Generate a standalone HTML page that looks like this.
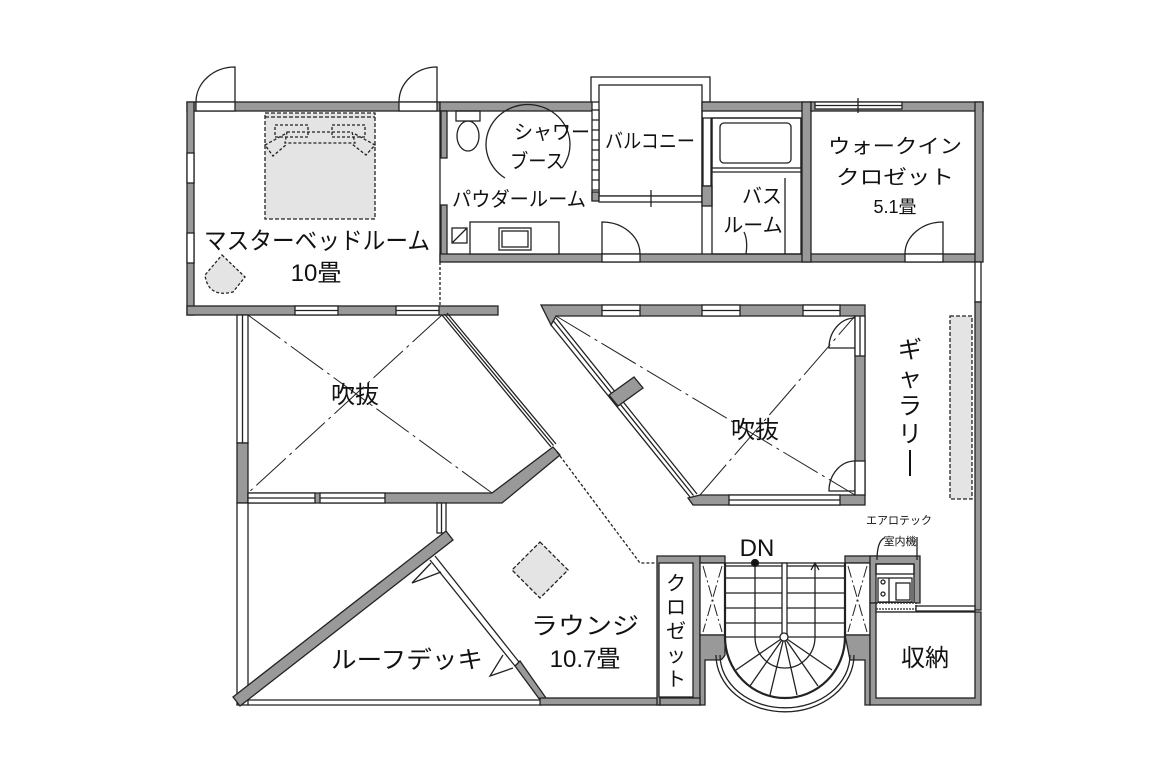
<!DOCTYPE html>
<html><head><meta charset="utf-8"><style>
html,body{margin:0;padding:0;background:#fff}
svg{display:block}
text{font-family:"Liberation Sans","Noto Sans CJK JP",sans-serif;fill:#111}
</style></head><body>
<svg width="1170" height="780" viewBox="0 0 1170 780" xmlns="http://www.w3.org/2000/svg">
<g stroke="#222" stroke-width="1.3" fill="none">
<rect x="187" y="102" width="253" height="9" fill="#999"/>
<rect x="187" y="102" width="7" height="213" fill="#999"/>
<rect x="187" y="306" width="311" height="9" fill="#999"/>
<rect x="196" y="102" width="39" height="9" fill="#fff"/>
<path d="M235 102 V67 A39 35 0 0 0 196 102"/>
<rect x="399" y="102" width="38" height="9" fill="#fff"/>
<path d="M437 102 V67 A38 35 0 0 0 399 102"/>
<rect x="187" y="153" width="7" height="30" fill="#fff"/>
<rect x="187" y="233" width="7" height="30" fill="#fff"/>
<rect x="295" y="306" width="43" height="9" fill="#fff"/><line x1="295" y1="310.5" x2="338" y2="310.5"/>
<rect x="396" y="306" width="43" height="9" fill="#fff"/><line x1="396" y1="310.5" x2="439" y2="310.5"/>
<line x1="440" y1="111" x2="440" y2="262"/>
<line x1="440" y1="262" x2="440" y2="306" stroke-dasharray="3,2"/>
<rect x="265" y="113" width="110" height="106" fill="#e4e4e4" stroke-dasharray="4,2"/>
<line x1="265" y1="117" x2="375" y2="117" stroke-dasharray="4,2"/>
<rect x="275" y="125" width="33" height="12" stroke-dasharray="3,2"/>
<rect x="332" y="125" width="33" height="12" stroke-dasharray="3,2"/>
<path d="M287 132 H352 L355 143 H285 Z" stroke-dasharray="3,2"/>
<path d="M285 134 L265 145 L273 156 L287 144" stroke-dasharray="3,2"/>
<path d="M355 134 L375 145 L366 155 L352 144" stroke-dasharray="3,2"/>
<path d="M222 255 L245 277 L233 292 Q208 298 205 275 Z" fill="#e4e4e4" stroke-dasharray="3,2"/>
<rect x="440" y="102" width="152" height="9" fill="#999"/>
<rect x="441" y="111" width="6" height="47" fill="#999"/>
<rect x="441" y="205" width="6" height="55" fill="#999"/>
<rect x="440" y="254" width="540" height="8" fill="#999"/>
<rect x="456" y="111" width="24" height="10" />
<ellipse cx="468" cy="136" rx="11" ry="15"/>
<path d="M505 178 A42 40 0 1 1 562 168"/>
<rect x="452" y="228" width="15" height="15"/><line x1="452" y1="243" x2="467" y2="228"/>
<rect x="470" y="222" width="89" height="32" fill="#fff"/>
<rect x="499" y="228" width="32" height="22"/><rect x="502" y="231" width="26" height="16"/>
<rect x="602" y="254" width="38" height="8" fill="#fff"/>
<path d="M602 254 V222 A38 32 0 0 1 640 254"/>
<rect x="591" y="77" width="119" height="25" fill="#fff"/>
<rect x="599" y="85" width="103" height="111" fill="#fff"/>
<rect x="592" y="110" width="7" height="90" fill="#fff"/>
<path d="M592 120 h7 M592 130 h7 M592 140 h7 M592 150 h7 M592 160 h7 M592 170 h7 M592 180 h7 M592 190 h7"/>
<rect x="592" y="192" width="7" height="9" fill="#999"/>
<rect x="599" y="196" width="103" height="6" fill="#fff"/><line x1="651" y1="190" x2="651" y2="207"/>
<rect x="702" y="102" width="110" height="9" fill="#999"/>
<line x1="702" y1="111" x2="702" y2="254"/>
<rect x="703" y="118" width="8" height="68"/>
<rect x="702" y="186" width="10" height="20" fill="#999"/>
<rect x="712" y="118" width="89" height="136"/>
<rect x="712" y="118" width="89" height="50"/>
<rect x="720" y="123" width="71" height="40" rx="4"/>
<line x1="712" y1="172" x2="801" y2="172"/>
<line x1="785" y1="178" x2="785" y2="254"/>
<path d="M746 254 Q748 240 744 232"/>
<rect x="802" y="102" width="9" height="160" fill="#999"/>
<rect x="811" y="102" width="172" height="9" fill="#999"/>
<rect x="815" y="102" width="87" height="7" fill="#fff"/><line x1="815" y1="105.5" x2="902" y2="105.5"/><line x1="858" y1="98" x2="858" y2="113"/>
<rect x="975" y="102" width="8" height="160" fill="#999"/>
<rect x="905" y="254" width="38" height="8" fill="#fff"/>
<path d="M943 254 V222 A38 32 0 0 0 905 254"/>
<rect x="975" y="262" width="6" height="40" fill="#fff"/>
<rect x="975" y="302" width="6" height="308" fill="#999"/>
<rect x="950" y="316" width="22" height="183" fill="#e4e4e4" stroke-dasharray="4,2"/>
<rect x="237" y="315" width="11" height="128" fill="#fff"/><line x1="242.5" y1="315" x2="242.5" y2="443"/>
<rect x="237" y="443" width="11" height="60" fill="#999"/>
<path d="M248 493 H492 L553 447 L560 455 L502 503 H248 Z" fill="#999"/>
<rect x="248" y="493" width="67" height="10" fill="#fff"/><line x1="248" y1="498" x2="315" y2="498"/>
<rect x="320" y="493" width="65" height="10" fill="#fff"/><line x1="320" y1="498" x2="385" y2="498"/>
<path d="M442 315 L551 447 M447 313 L556 444 M444.5 314 L553.5 445.5"/>
<g stroke-dasharray="40,5,3,5" stroke-width="1">
<line x1="248" y1="315" x2="492" y2="493"/>
<line x1="442" y1="315" x2="248" y2="493"/>
</g>
<path d="M541 305 H865 V505 H693 L688 498 L700 495 H855 V316 H556 L551 325 Z" fill="#999"/>
<rect x="602" y="305" width="38" height="11" fill="#fff"/><line x1="602" y1="310.5" x2="640" y2="310.5"/>
<rect x="702" y="305" width="38" height="11" fill="#fff"/><line x1="702" y1="310.5" x2="740" y2="310.5"/>
<rect x="803" y="305" width="37" height="11" fill="#fff"/><line x1="803" y1="310.5" x2="840" y2="310.5"/>
<rect x="729" y="495" width="111" height="10" fill="#fff"/><line x1="729" y1="500" x2="840" y2="500"/>
<rect x="855" y="316" width="10" height="40" fill="#fff"/><line x1="860" y1="316" x2="860" y2="356"/>
<rect x="855" y="461" width="10" height="34" fill="#fff"/>
<path d="M855 318 A26 30 0 0 0 829 348 H855"/>
<path d="M855 461 A26 30 0 0 0 829 491 H855"/>
<path d="M551 325 L690 497 M556 318 L697 494 M553.5 321 L693.5 495.5" fill="none"/>
<polygon points="609,395 634,377 643,388 618,406" fill="#999"/>
<g stroke-dasharray="40,5,3,5" stroke-width="1">
<line x1="556" y1="316" x2="855" y2="495"/>
<line x1="700" y1="495" x2="855" y2="316"/>
</g>
<rect x="237" y="503" width="11" height="202" fill="#fff"/>
<line x1="248" y1="700" x2="542" y2="700"/><line x1="248" y1="705" x2="542" y2="705"/>
<rect x="437" y="503" width="9" height="30" fill="#fff"/><line x1="441.5" y1="503" x2="441.5" y2="533"/>
<polygon points="233,697 446,531 453,540 240,706" fill="#999"/>
<path d="M430 560 L515 666 M435 556 L519 662"/>
<polygon points="515,666 520,661 546,698 540,700" fill="#999"/>
<path d="M431 563 L412 583 L441 572"/>
<path d="M503 655 L490 676 L513 668"/>
<rect x="540" y="698" width="120" height="7" fill="#999"/>
<path d="M557 452 L640 563 H657" stroke-dasharray="3,2"/>
<polygon points="540,542 568,570 540,598 512,570" fill="#e4e4e4" stroke-dasharray="4,2"/>
<path d="M657 556 H700 V705 H657 Z" fill="#999"/>
<rect x="659" y="563" width="34" height="134" fill="#fff"/>
<rect x="700" y="556" width="25" height="7" fill="#999"/>
<rect x="845" y="556" width="32" height="7" fill="#999"/>
<rect x="700" y="563" width="25" height="72" fill="#fff"/>
<rect x="845" y="563" width="25" height="72" fill="#fff"/>
<g stroke-dasharray="12,3,2,3" stroke-width="1">
<path d="M703 566 L722 632 M722 566 L703 632 M848 566 L867 632 M867 566 L848 632"/>
</g>
<path d="M700 635 H725 V655 Q722 660 720 660 H705 V705 H700 Z" fill="#999"/>
<path d="M845 635 H870 V705 H865 V660 H850 Z" fill="#999"/>
<rect x="725" y="563" width="120" height="3"/>
<rect x="782" y="563" width="5" height="75" fill="#fff"/>
<path d="M725 563 V637 A59 60 0 0 0 845 637 V563" stroke-width="2.2"/>
<path d="M720 655 A64 52 0 0 0 850 655"/>
<path d="M716 655 A68 56 0 0 0 854 655"/>
<path d="M725 578 H782 M725 593 H782 M725 608 H782 M725 623 H782 M725 637 H782 M787 578 H845 M787 593 H845 M787 608 H845 M787 623 H845 M787 637 H845"/>
<path d="M784 637 L736 670 M784 637 L750 686 M784 637 L770 695 M784 637 L797 695 M784 637 L818 686 M784 637 L832 670"/>
<circle cx="784" cy="637" r="4" fill="#fff"/>
<path d="M755 563 V637 A29 30 0 0 0 815 637 V564"/>
<path d="M811 570 L815 563 L819 570"/>
<circle cx="755" cy="563" r="3.5" fill="#111"/>
<path d="M870 556 H920 V603 H870 Z" fill="#999"/>
<rect x="876" y="564" width="38" height="39" fill="#fff"/>
<rect x="876" y="564" width="38" height="10"/>
<rect x="878" y="578" width="34" height="24"/>
<line x1="889" y1="578" x2="889" y2="602"/>
<circle cx="883" cy="582" r="2"/><circle cx="883" cy="594" r="2"/>
<rect x="896" y="583" width="14" height="17"/>
<path d="M877 560 Q877 542 884 538 M917 560 V537"/>
<rect x="876" y="603" width="40" height="6" fill="#fff" stroke-dasharray="2,1"/>
<rect x="916" y="606" width="59" height="5" fill="#fff"/>
<path d="M870 603 H876 V612 H981 V705 H870 Z" fill="#999"/>
<rect x="876" y="612" width="99" height="86" fill="#fff"/>
<rect x="660" y="698" width="40" height="7" fill="#999"/>
</g>
<g font-size="24" text-anchor="middle" lengthAdjust="spacingAndGlyphs">
<text x="317" y="249" textLength="226" lengthAdjust="spacingAndGlyphs">マスターベッドルーム</text>
<text x="316" y="281">10畳</text>
<text x="355" y="403">吹抜</text>
<text x="755" y="438">吹抜</text>
<text x="585" y="634" textLength="108" lengthAdjust="spacingAndGlyphs">ラウンジ</text>
<text x="585" y="667">10.7畳</text>
<text x="407" y="668" textLength="152" lengthAdjust="spacingAndGlyphs">ルーフデッキ</text>
<text x="925" y="666">収納</text>
<text x="757" y="556">DN</text>
</g>
<g font-size="20" text-anchor="middle">
<text x="552" y="139" textLength="76" lengthAdjust="spacingAndGlyphs">シャワー</text>
<text x="537" y="168" textLength="54" lengthAdjust="spacingAndGlyphs">ブース</text>
<text x="519" y="206" textLength="134" lengthAdjust="spacingAndGlyphs">パウダールーム</text>
<text x="650" y="148" textLength="90" lengthAdjust="spacingAndGlyphs">バルコニー</text>
<text x="762" y="203">バス</text>
<text x="753" y="232">ルーム</text>
<text x="895" y="153" textLength="134" lengthAdjust="spacingAndGlyphs">ウォークイン</text>
<text x="895" y="184" textLength="118" lengthAdjust="spacingAndGlyphs">クロゼット</text>
<text x="895" y="213" font-size="18">5.1畳</text>
</g>
<g font-size="24" text-anchor="middle">
<text x="910" y="358">ギ</text><text x="910" y="386">ャ</text><text x="910" y="414">ラ</text><text x="910" y="442">リ</text>
</g>
<line x1="910" y1="450" x2="910" y2="476" stroke="#111" stroke-width="2"/>
<g font-size="20" text-anchor="middle">
<text x="676" y="590">ク</text><text x="676" y="614">ロ</text><text x="676" y="638">ゼ</text><text x="676" y="662">ッ</text><text x="676" y="686">ト</text>
</g>
<g font-size="11" text-anchor="middle">
<text x="899" y="524">エアロテック</text>
<text x="900" y="545">室内機</text>
</g>
</svg>
</body></html>
